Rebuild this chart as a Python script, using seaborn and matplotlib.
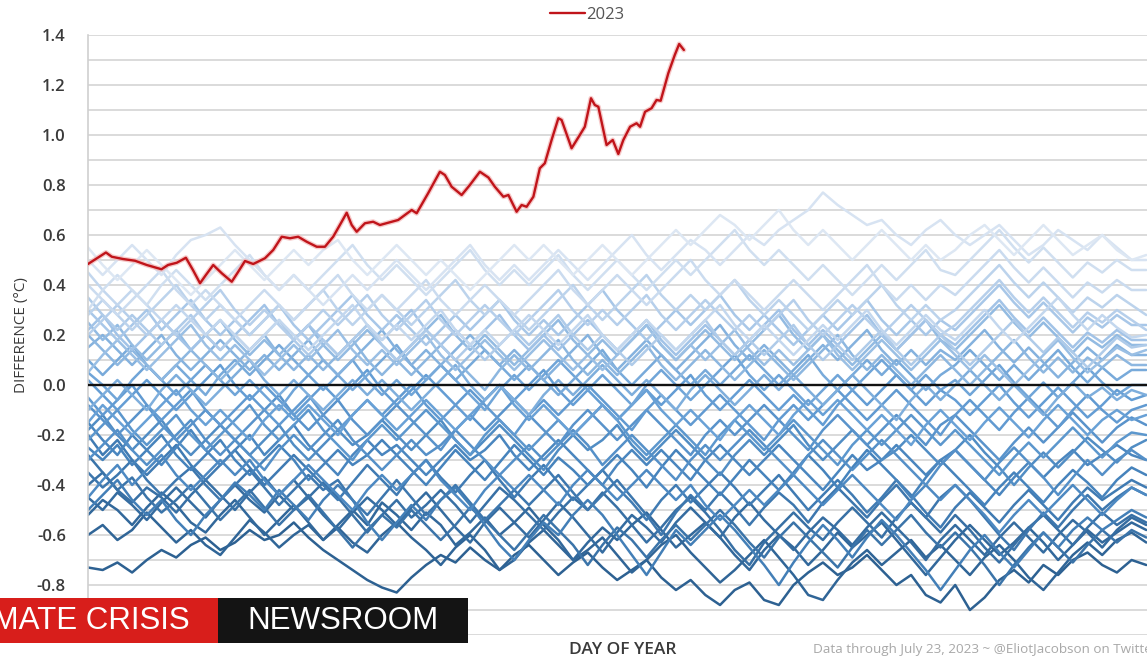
import numpy as np
import pandas as pd
import matplotlib
matplotlib.use("Agg")
import matplotlib.pyplot as plt
import matplotlib.patheffects as pe
from matplotlib.colors import LinearSegmentedColormap, to_hex
from matplotlib.lines import Line2D
from matplotlib.patches import Rectangle
import seaborn as sns

# ---------------------------------------------------------------------------
# Data
# ---------------------------------------------------------------------------
# Earlier years: daily difference (hundredths of a degree C), every 5th day
sample_days = list(range(1, 366, 5))
past_years = list(range(1987, 2023))
past_centi = [
    [-73,-74,-71,-75,-70,-66,-69,-64,-61,-66, -63,-58,-62,-60,-55,-61,-66,-70,-74,-78, -81,-83,-77,-72,-68,-71,-65,-70,-74,-68, -64,-70,-76,-71,-67,-73,-78,-74,-70,-77, -82,-78,-84,-88,-82,-79,-86,-88,-80,-75, -71,-76,-73,-68,-74,-80,-76,-84,-87,-80, -90,-85,-78,-74,-79,-72,-76,-70,-67,-72, -75,-70,-72],
    [-60,-56,-62,-58,-51,-57,-63,-58,-64,-68, -61,-54,-59,-65,-60,-56,-62,-57,-63,-67, -60,-55,-61,-66,-72,-65,-60,-66,-74,-70, -63,-58,-64,-70,-66,-61,-68,-75,-70,-64, -60,-67,-73,-79,-74,-68,-62,-69,-76,-84, -86,-78,-71,-66,-72,-67,-62,-69,-64,-70, -76,-69,-64,-70,-77,-82,-75,-68,-63,-68, -62,-59,-63],
    [-52,-46,-50,-56,-49,-43,-48,-55,-59,-52, -46,-53,-60,-54,-48,-55,-62,-56,-50,-56, -47,-52,-58,-51,-56,-64,-59,-53,-60,-55, -49,-56,-62,-70,-63,-57,-62,-56,-51,-58, -65,-60,-55,-61,-68,-74,-66,-60,-65,-72, -66,-59,-65,-60,-55,-62,-69,-76,-69,-62, -56,-62,-68,-63,-57,-63,-70,-64,-58,-63, -59,-55,-58],
    [-45,-50,-43,-48,-54,-47,-41,-47,-53,-46, -40,-46,-51,-44,-38,-45,-52,-58,-51,-45, -50,-56,-49,-43,-50,-57,-63,-55,-49,-55, -61,-54,-47,-53,-60,-67,-59,-52,-57,-63, -55,-49,-55,-61,-53,-47,-54,-60,-66,-59, -53,-58,-64,-57,-51,-57,-63,-70,-62,-56, -62,-68,-61,-55,-61,-67,-60,-54,-59,-65, -58,-53,-56],
    [-40,-35,-42,-47,-41,-45,-51,-44,-38,-44, -50,-43,-37,-44,-50,-45,-39,-45,-52,-59, -52,-46,-53,-48,-42,-48,-55,-48,-41,-46, -52,-58,-51,-45,-50,-43,-49,-56,-63,-57, -50,-45,-51,-58,-66,-72,-63,-57,-51,-57, -62,-55,-49,-55,-61,-53,-47,-53,-59,-52, -58,-65,-71,-64,-57,-52,-58,-64,-57,-51, -56,-52,-55],
    [-28,-35,-42,-37,-45,-51,-46,-40,-47,-54, -48,-42,-49,-56,-50,-44,-51,-58,-65,-58, -52,-57,-50,-56,-62,-56,-49,-54,-60,-66, -59,-52,-58,-64,-72,-64,-57,-62,-69,-62, -56,-62,-56,-50,-56,-63,-69,-61,-55,-61, -67,-73,-65,-58,-64,-58,-52,-59,-65,-59, -65,-72,-80,-72,-65,-59,-65,-71,-64,-58, -63,-58,-61],
    [-35,-41,-36,-30,-38,-44,-38,-33,-40,-46, -40,-34,-41,-48,-42,-36,-42,-38,-46,-52, -45,-38,-45,-52,-46,-40,-47,-54,-48,-42, -48,-42,-36,-43,-50,-44,-38,-45,-52,-60, -51,-44,-50,-43,-49,-56,-49,-43,-48,-55, -47,-41,-47,-53,-46,-40,-47,-53,-45,-40, -46,-53,-60,-66,-58,-51,-57,-50,-44,-50, -45,-41,-44],
    [-20,-28,-22,-30,-36,-30,-24,-32,-38,-32, -26,-33,-40,-34,-28,-34,-40,-46,-39,-32, -38,-44,-36,-30,-37,-43,-36,-30,-38,-45, -38,-32,-39,-46,-40,-34,-41,-47,-54,-46, -40,-47,-41,-35,-41,-48,-42,-36,-43,-50, -44,-38,-44,-51,-45,-38,-44,-51,-57,-49, -43,-49,-55,-48,-42,-48,-54,-47,-41,-46, -42,-38,-41],
    [-50,-44,-38,-46,-52,-46,-54,-60,-52,-46, -39,-44,-50,-42,-48,-54,-46,-40,-46,-55, -62,-55,-48,-54,-46,-41,-48,-56,-64,-70, -62,-55,-60,-52,-46,-52,-60,-68,-76,-67, -58,-64,-58,-52,-58,-65,-72,-80,-71,-63, -56,-62,-69,-61,-54,-60,-67,-74,-82,-74, -66,-60,-67,-73,-66,-59,-65,-58,-53,-58, -54,-50,-53],
    [-25,-30,-24,-32,-26,-20,-28,-34,-28,-22, -30,-36,-30,-24,-30,-38,-32,-26,-32,-28, -22,-28,-34,-40,-33,-26,-32,-38,-31,-24, -30,-36,-29,-34,-40,-34,-28,-34,-41,-33, -26,-32,-38,-44,-37,-30,-36,-42,-35,-28, -34,-41,-33,-26,-32,-38,-45,-37,-30,-36, -42,-48,-41,-35,-41,-47,-40,-34,-39,-45, -38,-33,-36],
    [-15,-22,-28,-20,-26,-32,-25,-18,-26,-32, -26,-20,-28,-22,-16,-24,-30,-36,-28,-22, -28,-24,-30,-36,-30,-24,-30,-26,-20,-28, -34,-28,-22,-28,-34,-40,-32,-26,-32,-26, -32,-38,-30,-24,-30,-36,-30,-24,-30,-36, -42,-35,-28,-34,-30,-24,-30,-36,-30,-26, -32,-38,-44,-37,-31,-37,-31,-26,-32,-28, -24,-28,-30],
    [-45,-38,-32,-40,-34,-28,-36,-42,-36,-30, -36,-30,-38,-44,-38,-32,-38,-44,-50,-42, -36,-42,-36,-30,-38,-44,-50,-42,-36,-42, -36,-42,-48,-40,-34,-40,-46,-40,-34,-40, -46,-40,-48,-54,-48,-42,-48,-42,-36,-42, -48,-42,-36,-42,-48,-54,-46,-40,-46,-40, -46,-52,-59,-52,-46,-52,-46,-40,-46,-52, -46,-41,-44],
    [-18,-12,-20,-26,-20,-14,-22,-28,-22,-16, -22,-28,-22,-16,-24,-30,-24,-18,-24,-20, -14,-20,-26,-20,-14,-22,-28,-22,-16,-22, -28,-34,-26,-20,-26,-22,-16,-24,-30,-24, -18,-24,-30,-36,-28,-22,-28,-22,-16,-24, -30,-24,-18,-24,-30,-26,-20,-26,-32,-26, -20,-27,-33,-40,-33,-27,-33,-27,-21,-26, -31,-25,-22],
    [-30,-24,-18,-26,-32,-26,-20,-14,-22,-28, -22,-28,-34,-26,-20,-26,-20,-14,-22,-28, -34,-28,-22,-28,-24,-18,-24,-30,-36,-30, -24,-30,-24,-18,-24,-32,-26,-20,-26,-32, -38,-30,-24,-30,-24,-18,-24,-30,-36,-28, -22,-28,-34,-28,-22,-28,-34,-40,-32,-26, -32,-38,-31,-25,-31,-37,-44,-37,-30,-36, -30,-26,-30],
    [-8,-14,-20,-14,-8,-16,-22,-16,-10,-16, -22,-16,-10,-4,-12,-18,-12,-6,-14,-20, -14,-8,-14,-20,-26,-18,-12,-18,-12,-6, -12,-18,-24,-16,-10,-16,-22,-16,-10,-16, -22,-28,-20,-14,-20,-14,-8,-14,-20,-26, -18,-12,-18,-24,-18,-12,-18,-24,-16,-12, -18,-24,-30,-23,-17,-23,-17,-11,-17,-23, -17,-13,-16],
    [-22,-16,-10,-18,-24,-18,-12,-20,-26,-20, -14,-8,-16,-22,-16,-10,-18,-24,-30,-22, -16,-22,-16,-10,-16,-22,-28,-20,-14,-20, -26,-20,-14,-20,-14,-8,-14,-22,-28,-22, -16,-22,-28,-20,-14,-20,-26,-20,-14,-20, -26,-32,-24,-18,-24,-18,-12,-18,-24,-18, -24,-30,-36,-29,-23,-29,-23,-17,-23,-29, -23,-19,-20],
    [-5,-12,-6,0,-8,-14,-8,-2,-10,-16, -10,-4,-10,-16,-10,-4,-12,-18,-12,-6, -12,-6,0,-8,-14,-8,-2,-8,-14,-20, -12,-6,-12,-6,0,-6,-12,-18,-10,-4, -10,-16,-10,-4,-10,-16,-22,-14,-8,-14, -8,-2,-8,-14,-8,-2,-8,-14,-20,-12, -6,-12,-18,-11,-5,-11,-17,-10,-4,-10, -15,-10,-8],
    [2,-4,-10,-4,2,-4,-10,-4,2,8, 0,-6,0,-6,-12,-6,0,-6,0,6, -2,-8,-2,4,-2,-8,-14,-6,0,-6, 0,6,-2,-8,-2,-8,-14,-8,-2,-8, -2,4,-4,-10,-4,2,-4,-10,-4,-10, -16,-8,-2,-8,-2,4,-2,-8,-2,-6, -12,-6,0,-7,-13,-7,-1,-7,-13,-8, -2,-6,-4],
    [-15,-8,-14,-20,-14,-8,-2,-10,-16,-10, -16,-22,-14,-8,-14,-8,-14,-20,-12,-6, -12,-18,-12,-6,-12,-18,-12,-6,0,-8, -14,-8,-14,-20,-14,-8,-14,-8,-2,-10, -16,-10,-16,-22,-14,-8,-14,-20,-12,-6, -12,-6,-12,-18,-12,-18,-24,-16,-10,-16, -22,-15,-9,-15,-21,-14,-8,-14,-20,-14, -10,-14,-12],
    [5,0,-6,2,8,2,-4,2,8,2, -4,2,-4,-10,-2,4,-2,4,10,2, -4,2,-4,2,8,2,-4,-10,-2,4, -2,4,10,4,-2,4,-2,-8,0,6, 0,-6,0,6,12,4,-2,4,-2,-8, -2,4,-2,4,10,4,-2,4,-2,2, -4,2,8,1,-5,1,-5,1,7,1, -4,0,0],
    [10,4,10,16,8,2,8,2,-4,4, 10,4,10,16,10,4,10,4,-2,4, 10,16,8,2,8,2,8,14,8,2, 8,2,-4,2,8,14,6,0,6,12, 6,0,6,0,6,12,6,0,6,12, 4,-2,4,10,4,10,4,-2,4,8, 14,8,2,8,2,8,14,7,1,7, 2,6,6],
    [-10,-4,2,-4,-10,-2,4,-2,-8,-2, 4,10,2,-4,2,-4,-10,-4,2,-4, 2,-4,-10,-4,2,8,0,-6,0,-6, -12,-4,2,-4,2,8,2,-4,2,-4, -10,-2,4,-2,-8,-2,4,-2,4,-2, -8,-2,4,-2,-8,-14,-6,0,-6,0, 6,0,-6,0,-6,-12,-5,1,-5,-1, -6,-2,-4],
    [15,20,14,8,14,20,12,6,12,18, 12,6,12,6,12,18,10,4,10,16, 22,14,8,14,8,14,20,14,8,14, 8,2,8,14,20,12,6,12,18,12, 6,12,18,24,16,10,16,10,4,10, 16,10,16,22,14,8,14,8,14,10, 16,22,15,9,15,9,3,9,15,10, 16,12,12],
    [20,14,8,14,8,2,8,14,8,2, 8,14,20,12,6,12,6,12,18,10, 4,10,4,10,16,10,4,-2,6,12, 6,12,18,10,4,10,4,10,16,8, 2,8,14,8,2,8,14,8,2,8, 14,20,12,6,12,6,0,6,12,6, 0,6,12,18,11,5,11,5,11,7, 12,8,8],
    [25,18,24,16,10,16,22,14,20,26, 18,12,18,12,18,24,16,10,16,22, 16,10,16,22,28,20,14,20,14,8, 14,20,26,18,12,18,12,18,24,16, 10,16,22,16,10,16,22,28,20,14, 20,14,8,14,20,14,20,26,18,14, 20,26,32,25,19,25,19,13,19,15, 20,16,16],
    [5,12,18,12,6,12,18,24,16,10, 16,10,4,10,16,10,16,22,14,8, 14,8,14,20,12,6,12,18,12,6, 12,18,12,6,12,6,12,18,24,16, 10,16,10,16,22,14,8,14,8,14, 20,12,6,12,18,12,6,12,18,12, 6,12,6,0,6,12,18,11,5,10, 15,12,14],
    [22,28,20,14,20,26,20,14,20,14, 20,26,32,24,18,24,18,12,18,24, 18,24,30,22,16,22,16,22,28,20, 14,20,14,20,26,20,14,20,26,18, 12,18,24,18,12,18,24,30,22,16, 22,16,22,28,20,14,20,26,20,16, 22,28,34,27,21,27,21,15,21,17, 22,18,18],
    [30,24,18,24,30,22,28,34,26,20, 26,20,26,32,24,18,24,30,36,28, 22,28,22,16,22,28,22,28,34,26, 20,26,20,26,32,38,30,24,18,24, 30,24,30,36,28,22,28,22,16,22, 28,22,28,34,26,20,26,20,26,22, 28,34,40,33,27,33,27,21,27,23, 28,24,24],
    [35,28,22,28,22,16,22,28,20,14, 20,14,20,26,18,12,18,12,18,24, 16,10,16,22,16,10,16,10,16,22, 16,22,28,20,14,20,14,8,14,20, 14,20,26,18,12,18,12,18,24,16, 10,16,10,16,22,14,8,14,20,14, 8,14,20,26,19,13,19,13,7,13, 19,15,16],
    [20,26,32,26,20,26,20,26,32,38, 30,24,30,24,18,24,30,24,30,36, 28,22,28,34,26,20,26,32,26,20, 26,32,38,30,24,30,24,30,36,28, 22,28,34,28,22,28,22,28,34,26, 20,26,32,26,20,26,32,26,20,24, 30,36,42,35,29,35,29,23,29,25, 30,26,22],
    [28,34,28,22,28,34,40,32,26,32, 26,20,26,32,26,32,38,30,24,30, 36,30,24,30,36,42,34,28,34,28, 22,28,34,40,32,26,32,38,44,36, 30,36,30,36,42,34,28,34,28,22, 28,34,28,34,40,32,26,32,26,30, 36,42,48,41,35,41,35,29,35,31, 36,32,28],
    [45,38,32,38,32,26,32,26,20,26, 20,14,20,26,20,14,20,26,32,24, 18,24,18,24,30,22,16,22,16,22, 28,22,16,22,28,20,14,20,26,20, 14,20,26,32,24,18,24,18,12,18, 24,18,24,30,22,16,22,28,22,18, 24,30,23,17,23,29,35,28,22,28, 23,19,20],
    [40,34,28,34,40,46,38,32,38,32, 26,32,38,32,26,32,38,44,36,30, 36,30,36,42,34,28,34,40,34,28, 34,40,46,38,32,38,44,38,32,38, 44,50,42,36,42,36,30,36,42,36, 30,36,42,48,40,34,40,34,40,36, 42,48,54,47,41,47,41,35,41,37, 42,38,38],
    [30,38,44,38,32,40,46,40,34,40, 46,52,44,38,44,38,44,50,56,48, 42,48,42,36,42,48,54,46,40,46, 40,46,52,44,38,44,50,44,38,44, 50,44,50,56,62,54,48,54,48,42, 48,42,36,42,48,42,48,54,46,44, 50,56,62,55,49,55,49,43,49,45, 50,46,46],
    [50,44,50,56,50,44,52,58,60,63, 56,50,44,38,44,38,32,38,44,38, 44,50,44,38,44,50,56,48,42,48, 42,48,54,48,42,48,54,60,52,46, 52,58,54,48,54,60,56,62,66,70, 77,72,68,64,66,60,56,62,66,60, 56,60,64,58,52,56,62,58,54,60, 55,50,50],
    [55,48,42,48,54,48,42,36,42,48, 54,48,42,48,54,48,54,58,50,44, 50,56,50,44,50,44,38,44,50,56, 50,56,50,44,50,56,50,44,50,56, 62,56,62,68,64,58,64,70,62,56, 62,56,50,56,62,56,50,56,50,54, 60,64,58,52,58,64,58,52,56,60, 54,50,52],
]

# 2023 through July 23
days_2023 = [1, 7.1, 9.1, 12.9, 17, 21, 26, 28.2, 31.2, 34.3, 36.7, 39.1, 41.1, 43.6,
             46.5, 49.9, 52.1, 54.4, 57.2, 61.2, 64, 66.9, 69.7, 72.5, 75.4, 78.8,
             81.6, 84.4, 87.3, 89, 90.7, 92.4, 95.2, 98, 100.3, 106.5, 111.1, 112.8,
             116.7, 120.7, 122.4, 124.7, 128.1, 130.9, 134.3, 137.2, 139.4, 142.3,
             144, 146.8, 148.5, 150.2, 152.5, 154.7, 156.4, 158.7, 161, 162.1, 165.5,
             168.3, 170, 172.1, 173.4, 174.6, 177.4, 179.5, 181.4, 183.1, 185.4,
             187.6, 188.8, 190.5, 192.7, 194.4, 195.8, 198.4, 200.6, 202.1, 203.7]
anom_2023 = [0.484, 0.53, 0.513, 0.504, 0.497, 0.48, 0.463, 0.48, 0.489, 0.509, 0.46,
             0.407, 0.44, 0.48, 0.447, 0.413, 0.453, 0.496, 0.484, 0.507, 0.54, 0.593,
             0.587, 0.593, 0.573, 0.553, 0.553, 0.593, 0.653, 0.689, 0.64, 0.613,
             0.647, 0.653, 0.64, 0.66, 0.70, 0.687, 0.767, 0.853, 0.84, 0.793, 0.76,
             0.80, 0.853, 0.83, 0.793, 0.753, 0.76, 0.693, 0.72, 0.713, 0.753, 0.867,
             0.887, 0.98, 1.067, 1.06, 0.947, 1.0, 1.033, 1.147, 1.12, 1.113, 0.96,
             0.98, 0.924, 0.98, 1.033, 1.047, 1.033, 1.093, 1.107, 1.14, 1.137,
             1.247, 1.32, 1.364, 1.34]

y_labels = [-0.8, -0.6, -0.4, -0.2, 0.0, 0.2, 0.4, 0.6, 0.8, 1.0, 1.2, 1.4]

# ---------------------------------------------------------------------------
# Styling
# ---------------------------------------------------------------------------
sns.set_theme(style="white")
plt.rcParams["font.family"] = ["Open Sans", "DejaVu Sans"]
plt.rcParams["axes.unicode_minus"] = False

W, H = 1147, 660
fig = plt.figure(figsize=(W / 100, H / 100), dpi=100)
fig.patch.set_facecolor("white")

# plot area runs slightly past the right edge of the canvas
ax = fig.add_axes([88 / W, 25 / H, (1161 - 88) / W, 600 / H])
ax.set_facecolor("white")

# long table for seaborn
rows = []
for yr, vals in zip(past_years, past_centi):
    for d, v in zip(sample_days, vals):
        rows.append((yr, d, v / 100.0))
past_df = pd.DataFrame(rows, columns=["year", "day", "difference"])

cmap = LinearSegmentedColormap.from_list(
    "years", ["#2d6192", "#4582bb", "#669fd5", "#a3c4e7", "#dde7f3"])
n = len(past_years)
palette = {yr: to_hex(cmap(i / (n - 1))) for i, yr in enumerate(past_years)}

sns.lineplot(data=past_df, x="day", y="difference", hue="year", palette=palette,
             estimator=None, errorbar=None, legend=False, linewidth=1.8, ax=ax)

ax.axhline(0, color="#111111", linewidth=1.7, zorder=3)

red = "#c0141a"
sns.lineplot(x=days_2023, y=anom_2023, color=red, linewidth=1.7, ax=ax,
             estimator=None, errorbar=None, legend=False, sort=False)
red_line = ax.get_lines()[-1]
red_line.set_zorder(5)
red_line.set_path_effects([pe.Stroke(linewidth=3.6, foreground="#f3b3b3", alpha=0.7),
                           pe.Normal()])

# axes
ax.set_xlim(1, 366)
ax.set_ylim(-1.0, 1.4)
ax.set_yticks(y_labels)
ax.set_yticklabels([f"{v:.1f}" for v in y_labels])
ax.set_yticks(np.arange(-1.0, 1.45, 0.1), minor=True)
ax.set_xticks([])
ax.yaxis.grid(True, which="both", color="#d4d4d4", linewidth=1.2)
ax.set_axisbelow(True)
ax.tick_params(axis="y", which="both", length=0, pad=16, labelsize=12,
               labelcolor="#3a3a3a")
for lab in ax.get_yticklabels():
    lab.set_fontweight("semibold")
for side in ["top", "right", "bottom"]:
    ax.spines[side].set_visible(False)
ax.spines["left"].set_color("#d0d0d0")
ax.spines["left"].set_linewidth(1.2)
ax.set_xlabel("")
ax.set_ylabel("")

# legend above the plot
handle = Line2D([0], [0], color=red, linewidth=1.7)
fig.legend([handle], ["2023"], loc="center", bbox_to_anchor=(587 / W, 1 - 15 / H),
           frameon=False, handlelength=2.1, handletextpad=0.1, fontsize=12,
           labelcolor="#555555")

# axis titles and note
fig.text(22 / W, 1 - 335 / H, "DIFFERENCE (°C)", rotation=90, ha="center",
         va="center", fontsize=11, color="#3a3a3a")
fig.text(623 / W, 1 - 650 / H, "DAY OF YEAR", ha="center", va="center",
         fontsize=12.5, color="#3a3a3a", fontweight="semibold")
fig.text(813 / W, 1 - 650 / H, "Data through July 23, 2023 ~ @EliotJacobson on Twitter",
         ha="left", va="center", fontsize=9.7, color="#a8a8a8")

# broadcast banner
fig.add_artist(Rectangle((0, 1 - 643 / H), 218 / W, 45 / H, transform=fig.transFigure,
                         facecolor="#d81e1b", edgecolor="none", zorder=10))
fig.add_artist(Rectangle((218 / W, 1 - 643 / H), 250 / W, 45 / H,
                         transform=fig.transFigure, facecolor="#141414",
                         edgecolor="none", zorder=10))
fig.text(190 / W, 1 - 621 / H, "CLIMATE CRISIS", ha="right", va="center",
         fontsize=22.5, color="white", family="Liberation Sans", zorder=11)
fig.text(247 / W, 1 - 621 / H, "NEWSROOM", ha="left", va="center",
         fontsize=22.5, color="white", family="Liberation Sans", zorder=11)

fig.savefig("out.png", dpi=100, facecolor="white")
